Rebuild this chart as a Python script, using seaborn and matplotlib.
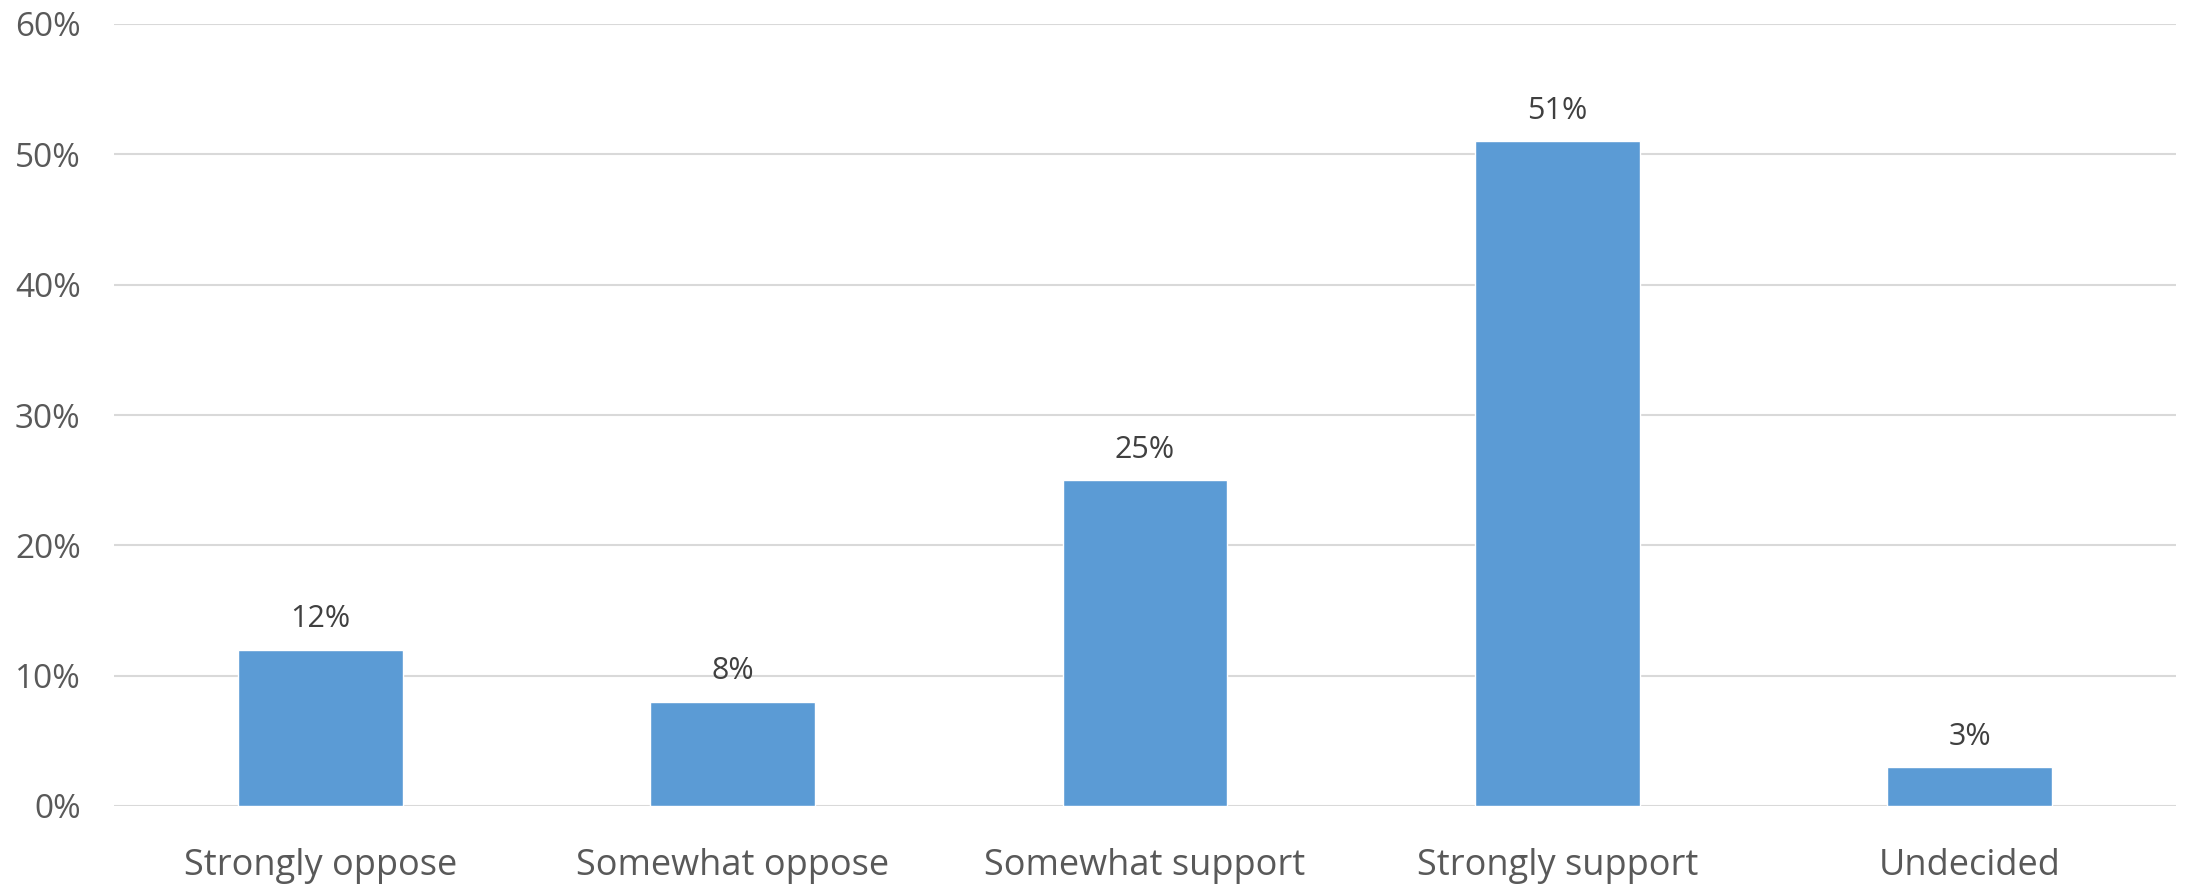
import matplotlib
matplotlib.use("Agg")
import matplotlib.pyplot as plt
import seaborn as sns
import pandas as pd
from matplotlib.ticker import PercentFormatter

categories = ["Strongly oppose", "Somewhat oppose", "Somewhat support", "Strongly support", "Undecided"]
values = [12, 8, 25, 51, 3]
yticks = [0, 10, 20, 30, 40, 50, 60]

df = pd.DataFrame({"category": categories, "value": values})

sns.set_theme(style="white")
plt.rcParams['font.family'] = ['Open Sans', 'DejaVu Sans']

fig = plt.figure(figsize=(21.9, 8.84), dpi=100)
ax = fig.add_axes([114/2190, 1-806/884, (2176-114)/2190, (806-24)/884])

sns.barplot(data=df, x="category", y="value", color="#5B9BD5", saturation=1,
            width=0.4, ax=ax, zorder=3)

ax.set_ylim(0, 60)
ax.set_yticks(yticks)
ax.yaxis.set_major_formatter(PercentFormatter(decimals=0))
ax.grid(axis="y", color="#D9D9D9", linewidth=1.5, zorder=0)
ax.set_axisbelow(True)
for s in ["top", "right", "left", "bottom"]:
    ax.spines[s].set_visible(False)
ax.set_xlabel("")
ax.set_ylabel("")
ax.tick_params(axis="y", length=0, pad=24, labelsize=24, labelcolor="#595959")
ax.tick_params(axis="x", length=0, pad=30, labelsize=26, labelcolor="#595959")

for c in ax.containers:
    ax.bar_label(c, labels=[f"{v}%" for v in values], padding=11,
                 fontsize=22, color="#404040")

fig.savefig("out.png", dpi=100)
